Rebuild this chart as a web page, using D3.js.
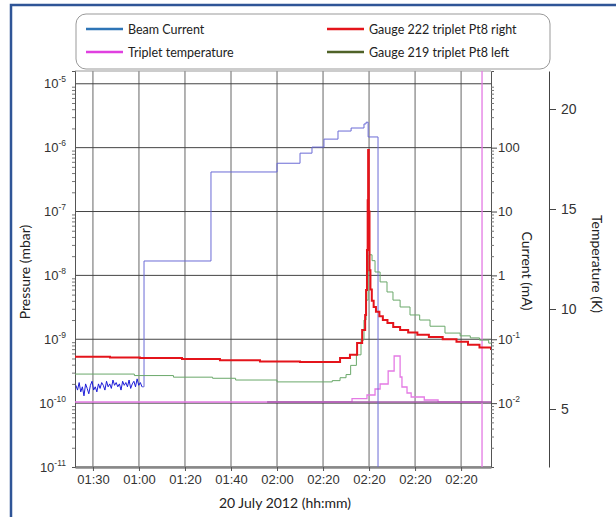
<!DOCTYPE html>
<html>
<head>
<meta charset="utf-8">
<script src="https://cdn.jsdelivr.net/npm/d3@7"></script>
<style>
  body { margin: 0; background: #fff; }
  svg { display: block; font-family: Lato, "Open Sans", sans-serif; }
  .tick text { fill: #333; font-size: 13px; }
</style>
</head>
<body>
<div id="chart"></div>
<script>
// x values are minutes from the first grid line
const xTicks = [0, 20, 40, 60, 80, 100, 120, 140, 160];
const xTickLabels = ['01:30', '01:00', '01:20', '01:40', '02:00', '02:20', '02:20', '02:20', '02:20'];
const pressureTicks = [1e-11, 1e-10, 1e-9, 1e-8, 1e-7, 1e-6, 1e-5];
const currentTicks = [0.01, 0.1, 1, 10, 100];
const tempTicks = [5, 10, 15, 20];

// [minute, mbar]
const gauge222 = [
  [-7.8, 5.3e-10], [7.4, 5.2e-10], [20.4, 5.1e-10], [38.7, 4.9e-10], [55.2, 4.7e-10],
  [72.6, 4.5e-10], [90, 4.4e-10], [107.4, 5.1e-10], [111.7, 5.7e-10], [114.8, 8.7e-10],
  [117, 1.4e-9], [118.3, 2.4e-9], [118.7, 5.9e-9], [119.1, 2.5e-8], [119.4, 1.5e-7],
  [119.6, 9.2e-7], [119.9, 1.0e-7], [120.2, 1.2e-8], [120.6, 6e-9], [121.2, 4.0e-9],
  [122, 3.2e-9], [123, 2.7e-9], [124.5, 2.3e-9], [126, 2.0e-9], [128, 1.8e-9],
  [130.5, 1.55e-9], [133.5, 1.4e-9], [137, 1.28e-9], [141, 1.18e-9], [146, 1.08e-9],
  [152, 1.0e-9], [158, 9.1e-10], [163, 8.2e-10], [168, 7.4e-10], [173, 6.8e-10]
];
const gauge219 = [
  [-7.8, 2.85e-10], [18, 2.7e-10], [35, 2.55e-10], [52, 2.45e-10], [62, 2.3e-10],
  [80, 2.15e-10], [104, 2.25e-10], [107.4, 2.5e-10], [110, 2.8e-10], [112, 3.9e-10],
  [114.5, 5.7e-10], [116.5, 9.7e-10], [117.8, 2.0e-9], [118.7, 4.1e-9], [119.6, 1.2e-8],
  [120.0, 2.1e-8], [121.3, 1.7e-8], [122.6, 1.13e-8], [124.8, 7.9e-9], [127.8, 5.5e-9],
  [130.4, 4.1e-9], [133.5, 3.2e-9], [137.8, 2.4e-9], [142, 2.0e-9], [146.5, 1.6e-9],
  [153, 1.25e-9], [159.6, 1.13e-9], [164, 1.05e-9], [168, 9.7e-10], [172, 8.7e-10], [173, 8.7e-10]
];
// [minute, mA]
const beamNoise = [
  [-7.4, 0.019], [-6.7, 0.016], [-6.0, 0.021], [-5.3, 0.015], [-4.6, 0.018], [-3.9, 0.013],
  [-3.2, 0.020], [-2.5, 0.017], [-1.8, 0.014], [-1.1, 0.019], [-0.4, 0.022], [0.3, 0.016],
  [1.0, 0.018], [1.7, 0.015], [2.4, 0.020], [3.1, 0.017], [3.8, 0.021], [4.5, 0.019],
  [5.2, 0.016], [5.9, 0.022], [6.6, 0.018], [7.3, 0.020], [8.0, 0.017], [8.7, 0.023],
  [9.4, 0.019], [10.1, 0.021], [10.8, 0.018], [11.5, 0.020], [12.2, 0.016], [12.9, 0.022],
  [13.6, 0.019], [14.3, 0.021], [15.0, 0.018], [15.7, 0.023], [16.4, 0.017], [17.1, 0.020],
  [17.8, 0.022], [18.5, 0.018], [19.2, 0.024], [19.9, 0.019], [20.6, 0.021], [21.3, 0.018]
];
const beamCurrent = [
  [21.3, 0.018], [22.2, 1.68], [51.3, 41.6], [80, 57], [90, 82], [95.2, 102],
  [100.4, 136], [106.5, 182], [112.2, 203], [117.8, 235], [118.7, 250], [119.6, 147],
  [123.9, 0.0005], [173, 0.0005]
];
// [minute, K]
const tripletTemp = [
  [-7.8, 5.35], [112.6, 5.52], [119.1, 5.7], [122.6, 6.0], [124.8, 6.25], [128.3, 6.9],
  [130.9, 7.65], [133.5, 6.6], [134.3, 6.1], [136.5, 5.8], [138.3, 5.6], [144, 5.45],
  [150, 5.35], [169.1, 5.35], [169.1, 25], [169.1, 0]
];
const tripletTempBase = [[75.7, 5.35], [173, 5.35]];

const W = 616, H = 517;
const L = 75, R = 491, T = 71, B = 467;

const svg = d3.select('#chart').append('svg')
  .attr('width', W)
  .attr('height', H);

// outer frame
svg.append('rect')
  .attr('x', 11).attr('y', 5)
  .attr('width', W).attr('height', H)
  .attr('fill', 'none')
  .attr('stroke', '#2f5597')
  .attr('stroke-width', 2.5);

const x = d3.scaleLinear().domain([-7.8, 173]).range([L, R]);
const yP = d3.scaleLog().domain([1e-11, Math.pow(10, -4.8)]).range([B, T]);
const yC = d3.scaleLog().domain([1e-3, Math.pow(10, 3.2)]).range([B, T]);
const yT = d3.scaleLinear().domain([2.1, 21.9]).range([B, T]);

function minorTicks(scale, d0, d1) {
  const out = [];
  for (let d = d0; d <= d1; d++) {
    for (let k = 2; k <= 9; k++) {
      const v = k * Math.pow(10, d);
      if (v > scale.domain()[0] && v < scale.domain()[1]) out.push(v);
    }
  }
  return out;
}

// grid
svg.append('g')
  .selectAll('line')
  .data(xTicks)
  .enter()
  .append('line')
  .attr('x1', d => x(d)).attr('x2', d => x(d))
  .attr('y1', T).attr('y2', B)
  .attr('stroke', '#666')
  .attr('stroke-width', 1);

svg.append('g')
  .selectAll('line')
  .data(pressureTicks)
  .enter()
  .append('line')
  .attr('x1', L).attr('x2', R)
  .attr('y1', d => yP(d)).attr('y2', d => yP(d))
  .attr('stroke', '#444')
  .attr('stroke-width', 1);

svg.append('line')
  .attr('x1', L).attr('x2', R)
  .attr('y1', T).attr('y2', T)
  .attr('stroke', '#999');

// x axis
const xAxis = svg.append('g')
  .attr('transform', `translate(0, ${B})`)
  .call(d3.axisBottom(x)
    .tickValues(xTicks)
    .tickSize(4)
    .tickSizeOuter(0)
    .tickPadding(4)
    .tickFormat((d, i) => xTickLabels[i]));
xAxis.select('.domain').attr('stroke', '#888').attr('stroke-width', 2.5);
xAxis.selectAll('.tick line').attr('stroke', '#555');

// left axis
const lMinor = svg.append('g')
  .attr('transform', `translate(${L}, 0)`)
  .call(d3.axisLeft(yP).tickValues(minorTicks(yP, -11, -5)).tickSize(3).tickFormat(''));
lMinor.select('.domain').attr('stroke', '#555');
lMinor.selectAll('.tick line').attr('stroke', '#777');

const lAxis = svg.append('g')
  .attr('transform', `translate(${L}, 0)`)
  .call(d3.axisLeft(yP).tickValues(pressureTicks).tickSize(0).tickPadding(9).tickFormat(''));
lAxis.select('.domain').remove();
lAxis.selectAll('.tick text').each(function(d) {
  const t = d3.select(this);
  t.append('tspan').text('10');
  t.append('tspan').text(Math.round(Math.log10(d)))
    .attr('dy', -6).attr('font-size', 8.5);
});

// right current axis
const rMinor = svg.append('g')
  .attr('transform', `translate(${R}, 0)`)
  .call(d3.axisRight(yC).tickValues(minorTicks(yC, -3, 3)).tickSize(3).tickFormat(''));
rMinor.select('.domain').attr('stroke', '#555');
rMinor.selectAll('.tick line').attr('stroke', '#777');

const rAxis = svg.append('g')
  .attr('transform', `translate(${R}, 0)`)
  .call(d3.axisRight(yC).tickValues(currentTicks).tickSize(6).tickPadding(1).tickFormat(''));
rAxis.select('.domain').remove();
rAxis.selectAll('.tick line').attr('stroke', '#444');
rAxis.selectAll('.tick text').each(function(d) {
  const t = d3.select(this);
  if (d >= 1) {
    t.text(d);
  } else {
    t.append('tspan').text('10');
    t.append('tspan').text(Math.round(Math.log10(d)))
      .attr('dy', -6).attr('font-size', 8.5);
  }
});

// temperature axis
const tAxis = svg.append('g')
  .attr('transform', 'translate(549, 0)')
  .call(d3.axisRight(yT).tickValues(tempTicks).tickSize(7).tickSizeOuter(0).tickPadding(5));
tAxis.select('.domain').attr('stroke', '#444');
tAxis.selectAll('.tick line').attr('stroke', '#444');
tAxis.selectAll('.tick text').style('font-size', '14px');

// axis titles
svg.append('text')
  .attr('transform', 'translate(30, 272) rotate(-90)')
  .attr('text-anchor', 'middle')
  .attr('font-size', 14)
  .attr('fill', '#222')
  .text('Pressure (mbar)');
svg.append('text')
  .attr('transform', 'translate(522, 271) rotate(90)')
  .attr('text-anchor', 'middle')
  .attr('font-size', 14)
  .attr('fill', '#222')
  .text('Current (mA)');
svg.append('text')
  .attr('transform', 'translate(592, 264) rotate(90)')
  .attr('text-anchor', 'middle')
  .attr('font-size', 14)
  .attr('fill', '#222')
  .text('Temperature (K)');
svg.append('text')
  .attr('x', 285).attr('y', 508)
  .attr('text-anchor', 'middle')
  .attr('font-size', 14)
  .attr('fill', '#222')
  .text('20 July 2012 (hh:mm)');

// series
svg.append('clipPath').attr('id', 'plot-clip')
  .append('rect')
  .attr('x', L).attr('y', T)
  .attr('width', R - L).attr('height', B - T);

const plot = svg.append('g').attr('clip-path', 'url(#plot-clip)');

const lineP = d3.line().x(d => x(d[0])).y(d => yP(d[1])).curve(d3.curveStepAfter);
const lineC = d3.line().x(d => x(d[0])).y(d => yC(d[1])).curve(d3.curveStepAfter);
const lineT = d3.line().x(d => x(d[0])).y(d => yT(d[1])).curve(d3.curveStepAfter);
const lineNoise = d3.line().x(d => x(d[0])).y(d => yC(d[1]));

plot.append('path').datum(tripletTemp)
  .attr('d', lineT).attr('fill', 'none')
  .attr('stroke', '#e47ae4').attr('stroke-width', 1.3);
plot.append('path').datum(tripletTempBase)
  .attr('d', lineT).attr('fill', 'none')
  .attr('stroke', '#a65aaa').attr('stroke-width', 1.3);
plot.append('path').datum(beamCurrent)
  .attr('d', lineC).attr('fill', 'none')
  .attr('stroke', '#6b6bd6').attr('stroke-width', 1);
plot.append('path').datum(gauge219)
  .attr('d', lineP).attr('fill', 'none')
  .attr('stroke', '#6aa86a').attr('stroke-width', 1);
plot.append('path').datum(gauge222)
  .attr('d', lineP).attr('fill', 'none')
  .attr('stroke', '#e4141b').attr('stroke-width', 2);
plot.append('path').datum(beamNoise)
  .attr('d', lineNoise).attr('fill', 'none')
  .attr('stroke', '#1c1cd8').attr('stroke-width', 1);

// legend
svg.append('rect')
  .attr('x', 76).attr('y', 14)
  .attr('width', 474).attr('height', 55)
  .attr('rx', 10)
  .attr('fill', '#fff')
  .attr('stroke', '#999');

const legendItems = [
  { name: 'Beam Current', color: '#2e75b6', col: 0, row: 0 },
  { name: 'Gauge 222 triplet Pt8 right', color: '#e4141b', col: 1, row: 0 },
  { name: 'Triplet temperature', color: '#e040e0', col: 0, row: 1 },
  { name: 'Gauge 219 triplet Pt8 left', color: '#4f6228', col: 1, row: 1 }
];
const lg = svg.append('g')
  .selectAll('g')
  .data(legendItems)
  .enter()
  .append('g')
  .attr('transform', d => `translate(${86 + d.col * 241}, ${29 + d.row * 23})`);
lg.append('line')
  .attr('x1', 0).attr('x2', 37)
  .attr('stroke', d => d.color)
  .attr('stroke-width', 2.5);
lg.append('text')
  .attr('x', 42).attr('y', 4.5)
  .attr('font-size', 12.5)
  .attr('fill', '#222')
  .text(d => d.name);
</script>
</body>
</html>
